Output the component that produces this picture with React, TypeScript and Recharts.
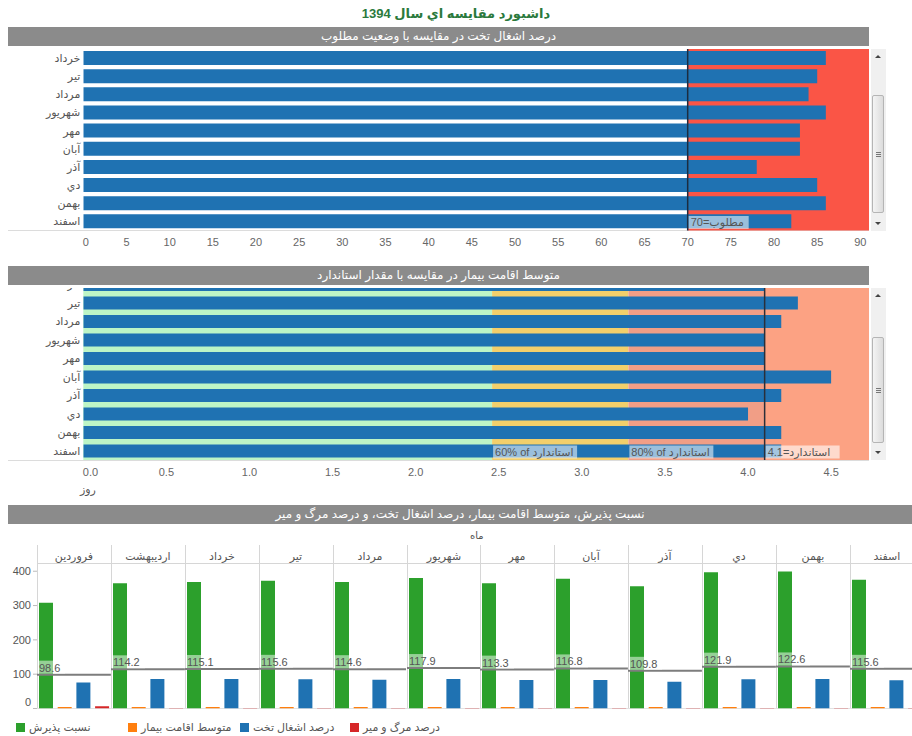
import React from 'react';
import { BarChart, Bar, XAxis, YAxis, ReferenceArea, ReferenceLine } from 'recharts';

const FONT = "'Liberation Sans', 'DejaVu Sans', sans-serif";

// ---------- Chart 1: bed occupancy vs target ----------
const occMonths = ['خرداد', 'تير', 'مرداد', 'شهريور', 'مهر', 'آبان', 'آذر', 'دي', 'بهمن', 'اسفند'];
const occValues = [86, 85, 84, 86, 83, 83, 78, 85, 86, 82];
const occTarget = 70;
const occTicks = [0, 5, 10, 15, 20, 25, 30, 35, 40, 45, 50, 55, 60, 65, 70, 75, 80, 85, 90];
const occMax = 91;

// ---------- Chart 2: average length of stay vs standard ----------
const alosMonths = ['خرداد', 'تير', 'مرداد', 'شهريور', 'مهر', 'آبان', 'آذر', 'دي', 'بهمن', 'اسفند'];
const alosValues = [4.1, 4.3, 4.2, 4.1, 4.1, 4.5, 4.2, 4.0, 4.2, 4.2];
const alosStandard = 4.1;
const alosBand60 = 2.46;
const alosBand80 = 3.28;
const alosTicks = [0, 0.5, 1, 1.5, 2, 2.5, 3, 3.5, 4, 4.5];
const alosMax = 4.728;

// ---------- Chart 3: monthly panels ----------
const months12 = ['فروردين', 'ارديبهشت', 'خرداد', 'تير', 'مرداد', 'شهريور', 'مهر', 'آبان', 'آذر', 'دي', 'بهمن', 'اسفند'];
const admissionRate = [308, 365, 369, 372, 369, 380, 365, 378, 356, 397, 399, 375];
const avgStay = [4.3, 4.2, 4.1, 4.3, 4.2, 4.1, 4.1, 4.5, 4.2, 4.0, 4.2, 4.2];
const bedOccupancy = [76, 86, 86, 85, 84, 86, 83, 83, 78, 85, 86, 82];
const mortality = [6.5, 1.5, 1.5, 1.5, 1.5, 1.5, 1.5, 1.5, 1.5, 1.5, 1.5, 1.5];
const paneAverage = [98.6, 114.2, 115.1, 115.6, 114.6, 117.9, 113.3, 116.8, 109.8, 121.9, 122.6, 115.6];
const panelTicks = [0, 100, 200, 300, 400];
const panelMax = 424;

const legendLabels = ['نسبت پذيرش', 'متوسط اقامت بيمار', 'درصد اشغال تخت', 'درصد مرگ و مير'];
const seriesColors = ['#2ca02c', '#ff7f0e', '#1f72b2', '#d62728'];

const BLUE = '#1f72b2';
const TEXT = '#555555';

const occData = occMonths.map((m, i) => ({ month: m, value: occValues[i] }));
const alosData = alosMonths.map((m, i) => ({ month: m, value: alosValues[i] }));

function BoxLabel(props: any) {
  const { viewBox, text, boxWidth, bottomPad, textFill, boxOpacity } = props;
  if (!viewBox) return null;
  const x = viewBox.x + 1;
  const yBottom = viewBox.y + viewBox.height - (bottomPad || 1);
  return (
    <g>
      <rect x={x} y={yBottom - 13} width={boxWidth} height={13} fill="#ffffff" fillOpacity={boxOpacity ?? 0.55} />
      <text x={x + 2} y={yBottom - 3} fontSize={11} fill={textFill || '#555'} fontFamily={FONT}>
        {text}
      </text>
    </g>
  );
}

function AvgLabel(props: any) {
  const { viewBox, text } = props;
  if (!viewBox) return null;
  const x = viewBox.x + 1;
  const y = viewBox.y;
  const w = text.length * 6 + 3;
  return (
    <g>
      <rect x={x} y={y - 14} width={w} height={13} fill="#ffffff" fillOpacity={0.5} />
      <text x={x + 1} y={y - 3} fontSize={11} fill="#555" fontFamily={FONT}>
        {text}
      </text>
    </g>
  );
}

function NumTick(props: any) {
  const { x, y, payload, decimals } = props;
  const v = payload.value as number;
  const isZero = v === 0;
  const label = decimals ? v.toFixed(decimals) : String(v);
  return (
    <text
      x={isZero ? x - 0.5 : x}
      y={y}
      dy="0.71em"
      textAnchor={isZero ? 'start' : 'middle'}
      fontSize={11}
      fill="#666"
      fontFamily={FONT}
    >
      {label}
    </text>
  );
}

function PanelYTick(props: any) {
  const { x, y, payload } = props;
  const v = payload.value as number;
  return (
    <text x={x} y={v === 0 ? y - 6 : y} dy="0.355em" textAnchor="end" fontSize={11} fill={TEXT} fontFamily={FONT}>
      {v}
    </text>
  );
}

function Header({ top, width, text }: { top: number; width: number; text: string }) {
  return (
    <div
      style={{
        position: 'absolute',
        left: 8,
        top,
        width,
        height: 19,
        background: '#8b8b8b',
        color: '#ffffff',
        fontSize: 12,
        lineHeight: '19px',
        textAlign: 'center',
        fontFamily: FONT,
      }}
    >
      {text}
    </div>
  );
}

function ScrollBar({ top, height, thumbTop, thumbHeight }: { top: number; height: number; thumbTop: number; thumbHeight: number }) {
  return (
    <div style={{ position: 'absolute', left: 871, top, width: 15, height, background: '#f0f0f0' }}>
      <div
        style={{
          position: 'absolute',
          left: 4,
          top: 6,
          width: 0,
          height: 0,
          borderLeft: '3px solid transparent',
          borderRight: '3px solid transparent',
          borderBottom: '3px solid #444',
        }}
      />
      <div
        style={{
          position: 'absolute',
          left: 4,
          top: height - 9,
          width: 0,
          height: 0,
          borderLeft: '3px solid transparent',
          borderRight: '3px solid transparent',
          borderTop: '3px solid #444',
        }}
      />
      <div
        style={{
          position: 'absolute',
          left: 1,
          top: thumbTop - top,
          width: 12,
          height: thumbHeight,
          boxSizing: 'border-box',
          border: '1px solid #b5b5b5',
          borderRadius: 2,
          background: 'linear-gradient(to right, #f4f4f4, #dcdcdc)',
        }}
      >
        <div style={{ position: 'absolute', left: 3, top: thumbHeight / 2 - 3, width: 5, height: 1, background: '#777' }} />
        <div style={{ position: 'absolute', left: 3, top: thumbHeight / 2 - 1, width: 5, height: 1, background: '#777' }} />
        <div style={{ position: 'absolute', left: 3, top: thumbHeight / 2 + 1, width: 5, height: 1, background: '#777' }} />
      </div>
    </div>
  );
}

const catTick = { fontSize: 11, fill: TEXT, fontFamily: FONT };

function OccupancyChart() {
  return (
    <div style={{ position: 'absolute', left: 8, top: 47, width: 861, height: 205 }}>
      <BarChart
        layout="vertical"
        width={861}
        height={205}
        data={occData}
        margin={{ top: 2, right: 0, bottom: 0, left: 0 }}
        barSize={14}
      >
        <XAxis
          type="number"
          domain={[0, occMax]}
          ticks={occTicks}
          allowDataOverflow
          interval={0}
          height={21.5}
          tickLine={false}
          axisLine={false}
          tick={<NumTick decimals={0} />}
        />
        <YAxis
          type="category"
          dataKey="month"
          width={75.3}
          interval={0}
          tickLine={false}
          axisLine={false}
          tickSize={0}
          tickMargin={3}
          tick={catTick}
        />
        <ReferenceArea x1={occTarget} x2={occMax} fill="#fa5546" fillOpacity={1} strokeWidth={0} />
        <Bar dataKey="value" fill={BLUE} isAnimationActive={false} />
        <ReferenceLine
          x={occTarget}
          stroke="#1c2c40"
          strokeWidth={1.5}
          label={<BoxLabel text={'مطلوب=' + occTarget} boxWidth={60} bottomPad={1.5} />}
        />
      </BarChart>
    </div>
  );
}

function StayChart() {
  return (
    <div style={{ position: 'absolute', left: 8, top: 288, width: 861, height: 196, overflow: 'hidden' }}>
      <div style={{ position: 'absolute', left: 0, top: -13 }}>
        <BarChart
          layout="vertical"
          width={861}
          height={207}
          data={alosData}
          margin={{ top: 0, right: 0, bottom: 0, left: 0 }}
          barSize={13}
        >
          <XAxis
            type="number"
            domain={[0, alosMax]}
            ticks={alosTicks}
            allowDataOverflow
            interval={0}
            height={22}
            tickLine={false}
            axisLine={false}
            tick={<NumTick decimals={1} />}
          />
          <YAxis
            type="category"
            dataKey="month"
            width={75.3}
            interval={0}
            tickLine={false}
            axisLine={false}
            tickSize={0}
            tickMargin={3}
            tick={catTick}
          />
          <ReferenceArea x1={0} x2={alosBand60} fill="#bdf5c6" fillOpacity={1} strokeWidth={0} />
          <ReferenceArea x1={alosBand60} x2={alosBand80} fill="#f2cf6b" fillOpacity={1} strokeWidth={0} />
          <ReferenceArea x1={alosBand80} x2={alosStandard} fill="#f19e86" fillOpacity={1} strokeWidth={0} />
          <ReferenceArea x1={alosStandard} x2={alosMax} fill="#fca283" fillOpacity={1} strokeWidth={0} />
          <Bar dataKey="value" fill={BLUE} isAnimationActive={false} />
          <ReferenceLine
            x={alosBand60}
            stroke="none"
            strokeOpacity={0}
            label={<BoxLabel text={'60% of  استاندارد'} boxWidth={84} bottomPad={1.5} />}
          />
          <ReferenceLine
            x={alosBand80}
            stroke="none"
            strokeOpacity={0}
            label={<BoxLabel text={'80% of  استاندارد'} boxWidth={84} bottomPad={1.5} />}
          />
          <ReferenceLine
            x={alosStandard}
            stroke="#2a2f3a"
            strokeWidth={1.5}
            label={<BoxLabel text={'استاندارد=' + alosStandard} boxWidth={74} bottomPad={1.5} boxOpacity={0.6} />}
          />
        </BarChart>
      </div>
    </div>
  );
}

const W3 = 73.9;

function Panel({ i }: { i: number }) {
  const first = i === 0;
  const yw = 29;
  const width = W3 + (first ? yw : 0);
  const left = 37 + i * W3 - (first ? yw : 0);
  const data = [
    {
      month: months12[i],
      adm: admissionRate[i],
      alos: avgStay[i],
      occ: bedOccupancy[i],
      mort: mortality[i],
    },
  ];
  return (
    <div style={{ position: 'absolute', left, top: 545, width, height: 166 }}>
      <BarChart
        width={width}
        height={166}
        data={data}
        margin={{ top: 0, right: 0, bottom: 2.5, left: 0 }}
        barSize={14}
        barGap={4.7}
      >
        <XAxis
          dataKey="month"
          orientation="top"
          height={18}
          tickLine={false}
          axisLine={false}
          tickSize={0}
          tickMargin={3}
          tick={catTick}
        />
        <YAxis
          type="number"
          hide={!first}
          width={yw}
          domain={[0, panelMax]}
          ticks={panelTicks}
          allowDataOverflow
          interval={0}
          axisLine={false}
          tickSize={4}
          tickMargin={2}
          tickLine={{ stroke: '#bbbbbb' }}
          tick={<PanelYTick />}
        />
        <Bar dataKey="adm" fill={seriesColors[0]} isAnimationActive={false} />
        <Bar dataKey="alos" fill={seriesColors[1]} isAnimationActive={false} />
        <Bar dataKey="occ" fill={seriesColors[2]} isAnimationActive={false} />
        <Bar dataKey="mort" fill={seriesColors[3]} isAnimationActive={false} />
        <ReferenceLine
          y={paneAverage[i]}
          stroke="#7d7d7d"
          strokeWidth={2}
          label={<AvgLabel text={paneAverage[i].toFixed(1)} />}
        />
      </BarChart>
    </div>
  );
}

export default function App() {
  const borders = [];
  for (let k = 0; k <= 12; k++) {
    borders.push(
      <div
        key={'b' + k}
        style={{ position: 'absolute', left: 37 + k * W3, top: 545, width: 1, height: 164, background: '#d6d6d6' }}
      />
    );
  }
  return (
    <div
      style={{
        position: 'absolute',
        left: 0,
        top: 0,
        width: 912,
        height: 736,
        overflow: 'hidden',
        background: '#ffffff',
        fontFamily: FONT,
      }}
    >
      <div
        style={{
          position: 'absolute',
          left: 0,
          top: 6,
          width: 912,
          textAlign: 'center',
          fontSize: 13,
          fontWeight: 'bold',
          color: '#2b7a3d',
        }}
      >
        داشبورد مقايسه اي سال 1394
      </div>

      <Header top={27} width={861} text="درصد اشغال تخت در مقايسه با وضعيت مطلوب" />
      <div style={{ position: 'absolute', left: 8, top: 230, width: 861, height: 1, background: '#dcdcdc' }} />
      <OccupancyChart />
      <ScrollBar top={49} height={182} thumbTop={95} thumbHeight={118} />

      <Header top={266} width={861} text="متوسط اقامت بيمار در مقايسه با مقدار استاندارد" />
      <div style={{ position: 'absolute', left: 8, top: 460, width: 861, height: 1, background: '#dcdcdc' }} />
      <StayChart />
      <ScrollBar top={288} height={172} thumbTop={337} thumbHeight={106} />
      <div style={{ position: 'absolute', left: 80, top: 483, fontSize: 11, color: TEXT }}>روز</div>

      <Header top={505} width={904} text="نسبت پذيرش، متوسط اقامت بيمار، درصد اشغال تخت، و درصد مرگ و مير" />
      <div style={{ position: 'absolute', left: 470, top: 530, fontSize: 10, color: TEXT }}>ماه</div>
      {borders}
      <div style={{ position: 'absolute', left: 37, top: 563, width: 875, height: 1, background: '#d6d6d6' }} />
      <div style={{ position: 'absolute', left: 37, top: 708, width: 875, height: 1, background: '#e2e2e2' }} />
      {months12.map((_, i) => (
        <Panel key={i} i={i} />
      ))}

      {legendLabels.map((lab, i) => (
        <div
          key={'l' + i}
          style={{
            position: 'absolute',
            left: [16, 128, 240, 350][i],
            top: 720,
            height: 14,
            display: 'flex',
            alignItems: 'center',
            fontSize: 11,
            color: TEXT,
            whiteSpace: 'nowrap',
          }}
        >
          <span style={{ display: 'inline-block', width: 9, height: 9, background: seriesColors[i], marginRight: 4 }} />
          <span>{lab}</span>
        </div>
      ))}
    </div>
  );
}
